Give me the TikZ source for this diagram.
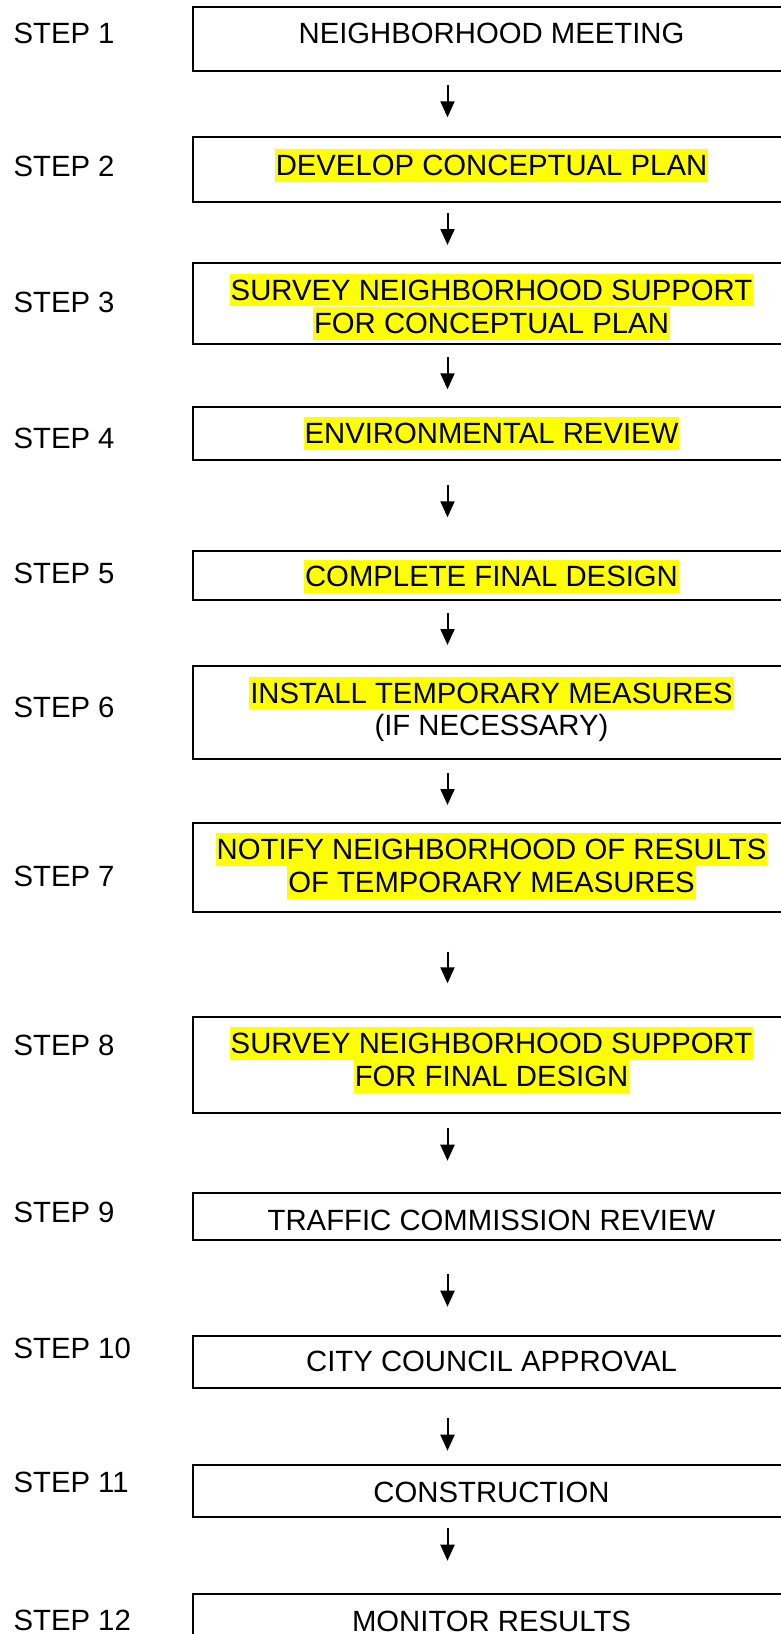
\documentclass[tikz,border=0pt]{standalone}
\usepackage{fontspec}
\setmainfont{Liberation Sans}
\usetikzlibrary{arrows.meta}
\definecolor{hlyellow}{HTML}{FFFF00}
\tikzset{
  stepbox/.style={draw=black, line width=2pt, rectangle, inner sep=0pt, anchor=north west, minimum width=610pt},
  steplabel/.style={anchor=base west, inner sep=0pt, font=\fontsize{29.3}{33.7}\selectfont},
  boxtext/.style={anchor=base, inner xsep=1pt, inner ysep=0pt, text height=26.5pt, text depth=6.2pt, font=\fontsize{29.3}{33.7}\selectfont},
  hl/.style={boxtext, fill=hlyellow},
  flowarrow/.style={line width=2pt, -{Triangle[length=16pt,width=14pt]}}
}
\begin{document}
\begin{tikzpicture}[x=1pt, y=-1pt]
\clip (0,0) rectangle (781,1634);
\fill[white] (0,0) rectangle (781,1634);

% boxes
\node[stepbox, minimum height=64.3pt] (b1) at (191.5,5.7) {};
\node[stepbox, minimum height=65pt] (b2) at (191.5,135.7) {};
\node[stepbox, minimum height=81.6pt] (b3) at (191.5,261.7) {};
\node[stepbox, minimum height=53.6pt] (b4) at (191.5,405.7) {};
\node[stepbox, minimum height=49pt] (b5) at (191.5,550) {};
\node[stepbox, minimum height=92.7pt] (b6) at (191.5,665) {};
\node[stepbox, minimum height=89pt] (b7) at (191.5,821.7) {};
\node[stepbox, minimum height=96pt] (b8) at (191.5,1015.7) {};
\node[stepbox, minimum height=47.6pt] (b9) at (191.5,1191.7) {};
\node[stepbox, minimum height=52.3pt] (b10) at (191.5,1335) {};
\node[stepbox, minimum height=51.7pt] (b11) at (191.5,1464) {};
\node[stepbox, minimum height=80pt] (b12) at (191.5,1592.7) {};

% step labels
\node[steplabel] (s1) at (13.4,43.3) {STEP 1};
\node[steplabel] (s2) at (13.4,176.7) {STEP 2};
\node[steplabel] (s3) at (13.4,312.7) {STEP 3};
\node[steplabel] (s4) at (13.4,448.3) {STEP 4};
\node[steplabel] (s5) at (13.4,583.3) {STEP 5};
\node[steplabel] (s6) at (13.4,717.3) {STEP 6};
\node[steplabel] (s7) at (13.4,886) {STEP 7};
\node[steplabel] (s8) at (13.4,1055) {STEP 8};
\node[steplabel] (s9) at (13.4,1222.7) {STEP 9};
\node[steplabel] (s10) at (13.4,1358.3) {STEP 10};
\node[steplabel] (s11) at (13.4,1492.3) {STEP 11};
\node[steplabel] (s12) at (13.4,1630.7) {STEP 12};

% box texts
\node[boxtext] (t1) at (491.5,43.3) {NEIGHBORHOOD MEETING};
\node[hl] (t2) at (491.5,175.5) {DEVELOP CONCEPTUAL PLAN};
\node[hl] (t3a) at (491.5,300) {SURVEY NEIGHBORHOOD SUPPORT};
\node[hl] (t3b) at (491.5,333.5) {FOR CONCEPTUAL PLAN};
\node[hl] (t4) at (491.5,443.3) {ENVIRONMENTAL REVIEW};
\node[hl] (t5) at (491.5,586.7) {COMPLETE FINAL DESIGN};
\node[hl] (t6a) at (491.5,703) {INSTALL TEMPORARY MEASURES};
\node[boxtext] (t6b) at (491.5,735.5) {(IF NECESSARY)};
\node[hl] (t7a) at (491.5,859.3) {NOTIFY NEIGHBORHOOD OF RESULTS};
\node[hl] (t7b) at (491.5,892.7) {OF TEMPORARY MEASURES};
\node[hl] (t8a) at (491.5,1053.3) {SURVEY NEIGHBORHOOD SUPPORT};
\node[hl] (t8b) at (491.5,1086.7) {FOR FINAL DESIGN};
\node[boxtext] (t9) at (491.5,1230) {TRAFFIC COMMISSION REVIEW};
\node[boxtext] (t10) at (491.5,1371.5) {CITY COUNCIL APPROVAL};
\node[boxtext] (t11) at (491.5,1502.3) {CONSTRUCTION};
\node[boxtext, text depth=0pt] (t12) at (491.5,1631) {MONITOR RESULTS};

% arrows
\coordinate (a1s) at (447.5,85);     \coordinate (a1e) at (447.5,117.3);
\coordinate (a2s) at (447.5,213);    \coordinate (a2e) at (447.5,245);
\coordinate (a3s) at (447.5,356.7);  \coordinate (a3e) at (447.5,389.3);
\coordinate (a4s) at (447.5,485);    \coordinate (a4e) at (447.5,517.3);
\coordinate (a5s) at (447.5,613.3);  \coordinate (a5e) at (447.5,645);
\coordinate (a6s) at (447.5,773.3);  \coordinate (a6e) at (447.5,805);
\coordinate (a7s) at (447.5,951.7);  \coordinate (a7e) at (447.5,983.3);
\coordinate (a8s) at (447.5,1128.3); \coordinate (a8e) at (447.5,1160.7);
\coordinate (a9s) at (447.5,1274);   \coordinate (a9e) at (447.5,1306.7);
\coordinate (a10s) at (447.5,1418.3); \coordinate (a10e) at (447.5,1450.7);
\coordinate (a11s) at (447.5,1528.3); \coordinate (a11e) at (447.5,1560.7);
\foreach \i in {1,...,11} {\draw[flowarrow] (a\i s) -- (a\i e);}
\end{tikzpicture}
\end{document}
